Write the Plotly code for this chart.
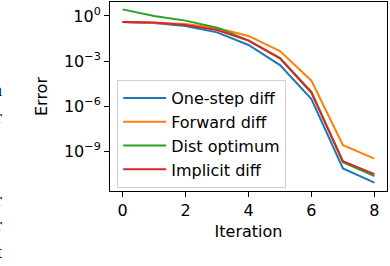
import plotly.graph_objects as go

iterations = [0, 1, 2, 3, 4, 5, 6, 7, 8]
# log10 of error values
one_step_log = [-0.40, -0.47, -0.67, -1.09, -1.93, -3.27, -5.53, -10.15, -11.09]
forward_log = [-0.40, -0.44, -0.53, -0.80, -1.33, -2.33, -4.31, -8.60, -9.49]
dist_opt_log = [0.44, 0.00, -0.31, -0.78, -1.62, -2.80, -5.05, -9.73, -10.65]
implicit_log = [-0.40, -0.44, -0.60, -0.93, -1.64, -2.82, -5.11, -9.67, -10.53]

one_step = [10 ** v for v in one_step_log]
forward = [10 ** v for v in forward_log]
dist_opt = [10 ** v for v in dist_opt_log]
implicit = [10 ** v for v in implicit_log]

series_names = ["One-step diff", "Forward diff", "Dist optimum", "Implicit diff"]
series_values = [one_step, forward, dist_opt, implicit]
colors = ["#1f77b4", "#ff7f0e", "#2ca02c", "#d62728"]

x_ticks = [0, 2, 4, 6, 8]
y_tickvals = [1e0, 1e-3, 1e-6, 1e-9]
y_ticktext = ["10<sup>0</sup>", "10<sup>\u22123</sup>", "10<sup>\u22126</sup>", "10<sup>\u22129</sup>"]

FONT = "DejaVu Sans"

fig = go.Figure()
for name, vals, col in zip(series_names, series_values, colors):
    fig.add_trace(go.Scatter(x=iterations, y=vals, mode="lines", name=name,
                             line=dict(color=col, width=2)))

fig.update_layout(
    width=390, height=266,
    margin=dict(l=110, r=3, t=2, b=75),
    paper_bgcolor="white", plot_bgcolor="white",
    font=dict(family=FONT, size=16, color="black"),
    showlegend=True,
    legend=dict(x=0.026, y=0.587, xanchor="left", yanchor="top",
                bgcolor="white", bordercolor="#d0d0d0", borderwidth=1,
                font=dict(family=FONT, size=16), tracegroupgap=0, itemwidth=43),
)
fig.update_xaxes(range=[-0.4, 8.4], tickvals=x_ticks, ticks="outside", ticklen=5,
                 tickwidth=1, tickcolor="black", showline=True, linecolor="black",
                 linewidth=1, mirror=True, showgrid=False, zeroline=False,
                 automargin=False,
                 title=dict(text="Iteration", standoff=6, font=dict(size=16)))
fig.update_yaxes(type="log", range=[-11.65, 0.93], tickvals=y_tickvals, ticktext=y_ticktext,
                 ticks="outside", ticklen=5, tickwidth=1, tickcolor="black",
                 showline=True, linecolor="black", linewidth=1, mirror=True,
                 showgrid=False, zeroline=False, automargin=False,
                 title=dict(text="Error", standoff=12, font=dict(size=16)))

# cropped fragments of neighbouring text at the left edge
fragments = [("n", 90), ("r", 117), ("r", 200), ("r", 225), ("t", 252)]
for txt, ypix in fragments:
    fig.add_annotation(text=txt, xref="paper", yref="paper",
                       x=(4 - 110) / 277.3, y=(190.7 - ypix) / 188.7,
                       xanchor="right", yanchor="middle", showarrow=False,
                       font=dict(family="Liberation Serif", size=18, color="black"))

fig.write_html("out.html", config={"displayModeBar": False},
               post_script="document.body.style.margin='0px';")
